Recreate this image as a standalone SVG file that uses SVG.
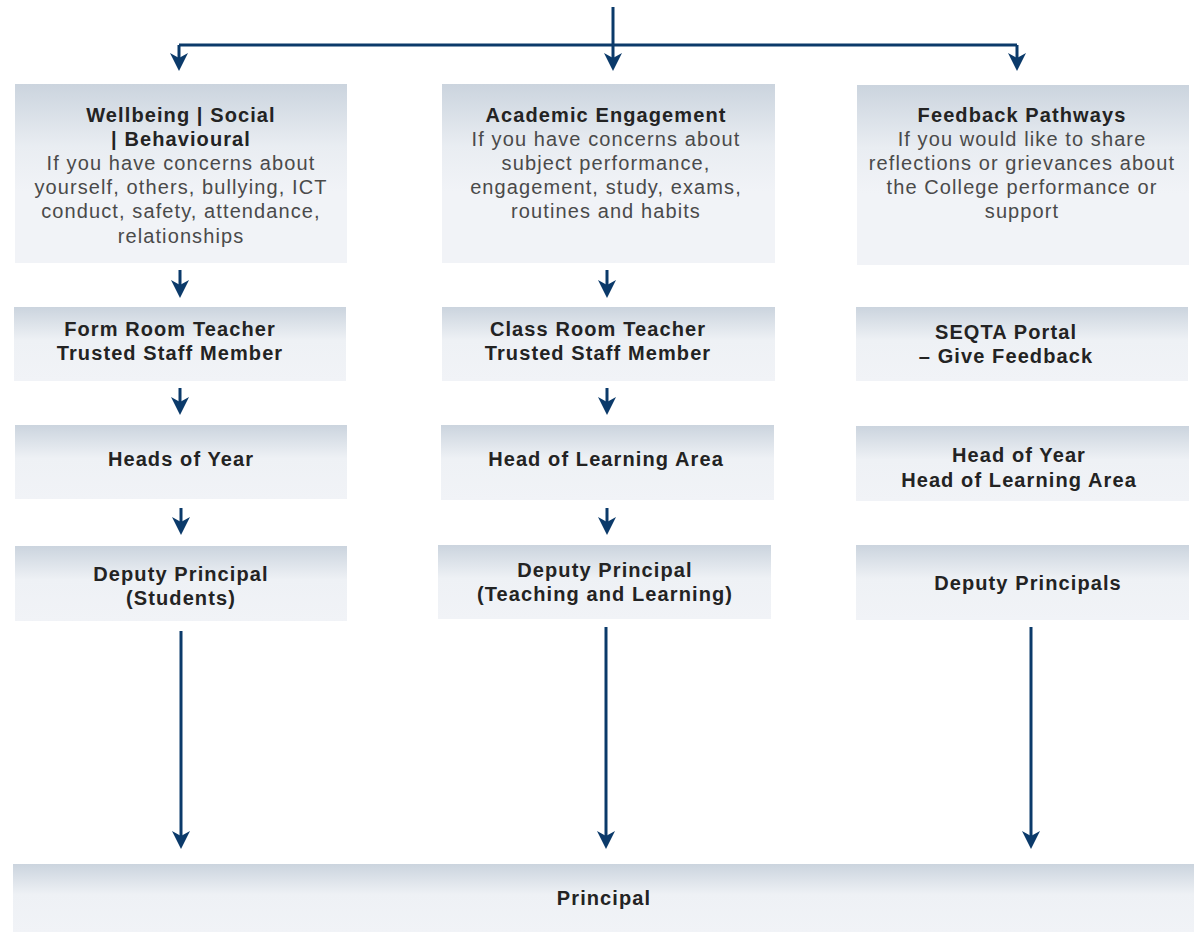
<svg xmlns="http://www.w3.org/2000/svg" width="1194" height="932" viewBox="0 0 1194 932">
<defs>
<linearGradient id="g" x1="0" y1="0" x2="0" y2="1">
<stop offset="0" stop-color="#cbd4de"/>
<stop offset="0.35" stop-color="#e9edf2"/>
<stop offset="0.6" stop-color="#f1f3f7"/>
<stop offset="1" stop-color="#f1f3f7"/>
</linearGradient>
<linearGradient id="gs" x1="0" y1="0" x2="0" y2="1">
<stop offset="0" stop-color="#cbd4de"/>
<stop offset="0.45" stop-color="#eef1f5"/>
<stop offset="1" stop-color="#f1f3f7"/>
</linearGradient>
<marker id="ah" viewBox="0 0 18 18" refX="8" refY="9" markerWidth="18" markerHeight="18" markerUnits="userSpaceOnUse" orient="auto">
<path d="M0,0 L18,9 L0,18 L5,9 Z" fill="#0b3a6a"/>
</marker>
</defs>
<style>
.box{fill:url(#gs)}
.big{fill:url(#g)}
.t{font-family:"Liberation Sans",Arial,sans-serif;font-size:20px;text-anchor:middle;letter-spacing:1.1px}
.b{font-weight:700;fill:#232323}
.r{font-weight:400;fill:#4a4a4a}
.c{stroke:#0b3a6a;stroke-width:3;fill:none}
.ca{stroke:#0b3a6a;stroke-width:3;fill:none;marker-end:url(#ah)}
</style>
<g id="connectors">
<path class="c" d="M179,45 H1017"/>
<path class="ca" d="M613,7 V61"/>
<path class="ca" d="M179,45 V61"/>
<path class="ca" d="M1017,45 V61"/>
<path class="ca" d="M180,270 V288"/>
<path class="ca" d="M180,388 V405"/>
<path class="ca" d="M181,508 V525"/>
<path class="ca" d="M607,270 V288"/>
<path class="ca" d="M607,388 V405"/>
<path class="ca" d="M607,508 V525"/>
<path class="ca" d="M181,631 V839"/>
<path class="ca" d="M606,627 V839"/>
<path class="ca" d="M1031,627 V839"/>
</g>
<g id="wellbeing">
<rect class="big" x="15" y="84" width="332" height="179"/>
<text class="t b" x="181" y="122">Wellbeing | Social</text>
<text class="t b" x="181" y="146">| Behavioural</text>
<text class="t r" x="181" y="170">If you have concerns about</text>
<text class="t r" x="181" y="194">yourself, others, bullying, ICT</text>
<text class="t r" x="181" y="218">conduct, safety, attendance,</text>
<text class="t r" x="181" y="243">relationships</text>
</g>
<g id="academic">
<rect class="big" x="442" y="84" width="333" height="179"/>
<text class="t b" x="606" y="122">Academic Engagement</text>
<text class="t r" x="606" y="146">If you have concerns about</text>
<text class="t r" x="606" y="170">subject performance,</text>
<text class="t r" x="606" y="194">engagement, study, exams,</text>
<text class="t r" x="606" y="218">routines and habits</text>
</g>
<g id="feedback">
<rect class="big" x="857" y="85" width="332" height="180"/>
<text class="t b" x="1022" y="122">Feedback Pathways</text>
<text class="t r" x="1022" y="146">If you would like to share</text>
<text class="t r" x="1022" y="170">reflections or grievances about</text>
<text class="t r" x="1022" y="194">the College performance or</text>
<text class="t r" x="1022" y="218">support</text>
</g>
<g id="form-room">
<rect class="box" x="14" y="307" width="332" height="74"/>
<text class="t b" x="170" y="336">Form Room Teacher</text>
<text class="t b" x="170" y="360">Trusted Staff Member</text>
</g>
<g id="heads-of-year">
<rect class="box" x="15" y="425" width="332" height="74"/>
<text class="t b" x="181" y="466">Heads of Year</text>
</g>
<g id="dp-students">
<rect class="box" x="15" y="546" width="332" height="75"/>
<text class="t b" x="181" y="581">Deputy Principal</text>
<text class="t b" x="181" y="605">(Students)</text>
</g>
<g id="class-room">
<rect class="box" x="442" y="307" width="333" height="74"/>
<text class="t b" x="598" y="336">Class Room Teacher</text>
<text class="t b" x="598" y="360">Trusted Staff Member</text>
</g>
<g id="hola">
<rect class="box" x="441" y="425" width="333" height="75"/>
<text class="t b" x="606" y="466">Head of Learning Area</text>
</g>
<g id="dp-tl">
<rect class="box" x="438" y="545" width="333" height="74"/>
<text class="t b" x="605" y="577">Deputy Principal</text>
<text class="t b" x="605" y="601">(Teaching and Learning)</text>
</g>
<g id="seqta">
<rect class="box" x="856" y="307" width="332" height="74"/>
<text class="t b" x="1006" y="339">SEQTA Portal</text>
<text class="t b" x="1006" y="363">– Give Feedback</text>
</g>
<g id="hoy-hola">
<rect class="box" x="856" y="426" width="333" height="75"/>
<text class="t b" x="1019" y="462">Head of Year</text>
<text class="t b" x="1019" y="487">Head of Learning Area</text>
</g>
<g id="dps">
<rect class="box" x="856" y="545" width="333" height="75"/>
<text class="t b" x="1028" y="590">Deputy Principals</text>
</g>
<g id="principal">
<rect class="box" x="13" y="864" width="1181" height="68"/>
<text class="t b" x="604" y="905">Principal</text>
</g>
</svg>
